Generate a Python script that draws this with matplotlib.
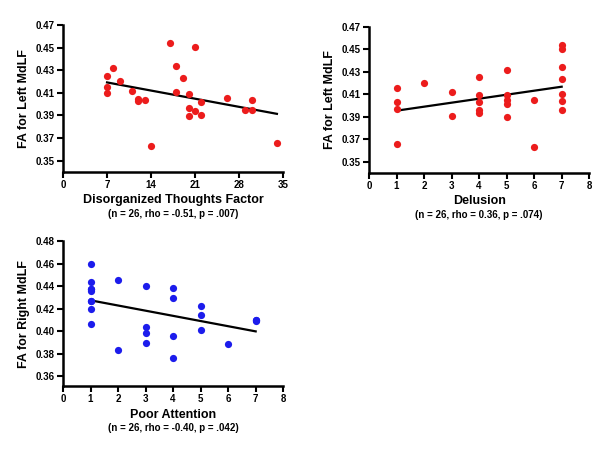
import matplotlib
matplotlib.use("Agg")
import matplotlib.pyplot as plt
import numpy as np

plt.rcParams['font.family'] = ['Liberation Sans', 'DejaVu Sans']
plt.rcParams['font.weight'] = 'bold'

# FA for left MdLF vs disorganized thoughts factor
disorg = [7, 7, 7, 8, 9, 11, 12, 12, 13, 14, 17, 18, 18, 19, 20, 20, 20,
          21, 21, 22, 22, 26, 29, 30, 30, 34]
fa_left_a = [0.425, 0.4155, 0.4096, 0.4318, 0.4205, 0.4116, 0.4045, 0.4027,
             0.4033, 0.3633, 0.454, 0.4341, 0.4104, 0.4235, 0.4093, 0.3968,
             0.3897, 0.4504, 0.3939, 0.4019, 0.3906, 0.4054, 0.395, 0.404,
             0.3953, 0.3657]

# FA for left MdLF vs delusion
delusion = [1, 1, 1, 1, 2, 3, 3, 4, 4, 4, 4, 4, 5, 5, 5, 5, 5, 6, 6,
            7, 7, 7, 7, 7, 7, 7]
fa_left_b = [0.4152, 0.403, 0.3965, 0.366, 0.4202, 0.4116, 0.3909, 0.425,
             0.4093, 0.403, 0.3959, 0.3936, 0.4318, 0.4093, 0.4048, 0.4016,
             0.3896, 0.4052, 0.3633, 0.4543, 0.4501, 0.4341, 0.4234, 0.4101,
             0.4044, 0.3956]

# FA for right MdLF vs poor attention
attention = [1, 1, 1, 1, 1, 1, 1, 1, 1, 2, 2, 3, 3, 3, 3, 4, 4, 4, 4,
             5, 5, 5, 6, 7, 7, 7]
fa_right = [0.4598, 0.4438, 0.4373, 0.4373, 0.4353, 0.4269, 0.4269, 0.4196,
            0.4062, 0.4453, 0.3835, 0.4405, 0.404, 0.398, 0.3891, 0.4381,
            0.4298, 0.3959, 0.376, 0.4227, 0.4141, 0.401, 0.3888, 0.4096,
            0.4096, 0.409]

panels = [
    dict(x=disorg, y=fa_left_a, color='#ec1c1c', xlabel='Disorganized Thoughts Factor',
         ylabel='FA for Left MdLF', stats='(n = 26, rho = -0.51, p = .007)',
         xlim=(0, 35), xticks=np.arange(0, 36, 7), ylim=(0.34, 0.47),
         yticks=np.arange(0.35, 0.471, 0.02), rect=[0.105, 0.617, 0.367, 0.327]),
    dict(x=delusion, y=fa_left_b, color='#ec1c1c', xlabel='Delusion',
         ylabel='FA for Left MdLF', stats='(n = 26, rho = 0.36, p = .074)',
         xlim=(0, 8), xticks=np.arange(0, 9, 1), ylim=(0.34, 0.47),
         yticks=np.arange(0.35, 0.471, 0.02), rect=[0.615, 0.615, 0.367, 0.325]),
    dict(x=attention, y=fa_right, color='#1c1cec', xlabel='Poor Attention',
         ylabel='FA for Right MdLF', stats='(n = 26, rho = -0.40, p = .042)',
         xlim=(0, 8), xticks=np.arange(0, 9, 1), ylim=(0.351, 0.48),
         yticks=np.arange(0.36, 0.481, 0.02), rect=[0.105, 0.140, 0.367, 0.323]),
]

fig = plt.figure(figsize=(6, 4.49), dpi=100)

for p in panels:
    ax = fig.add_axes(p['rect'])
    x = np.array(p['x'], dtype=float)
    y = np.array(p['y'])
    ax.plot(x, y, 'o', color=p['color'], ms=5.2, mec='none', zorder=3)
    slope, icpt = np.polyfit(x, y, 1)
    xs = np.array([x.min(), x.max()])
    ax.plot(xs, slope * xs + icpt, color='black', lw=1.6, zorder=2)

    ax.set_xlim(*p['xlim'])
    ax.set_ylim(*p['ylim'])
    ax.set_xticks(p['xticks'])
    ax.set_yticks(p['yticks'])
    ax.set_yticklabels(['%.2f' % v for v in p['yticks']])
    for s in ['top', 'right']:
        ax.spines[s].set_visible(False)
    for s in ['left', 'bottom']:
        ax.spines[s].set_linewidth(1.8)
    ax.tick_params(direction='out', length=4, width=1.5, labelsize=7, pad=2)
    ax.set_xlabel(p['xlabel'], fontsize=9, fontweight='bold', labelpad=3)
    ax.set_ylabel(p['ylabel'], fontsize=9, fontweight='bold', labelpad=4)
    ax.annotate(p['stats'], xy=(0.5, 0), xycoords='axes fraction',
                xytext=(0, -30), textcoords='offset points',
                ha='center', va='center', fontsize=7, fontweight='bold')

fig.savefig('out.png', dpi=100)
